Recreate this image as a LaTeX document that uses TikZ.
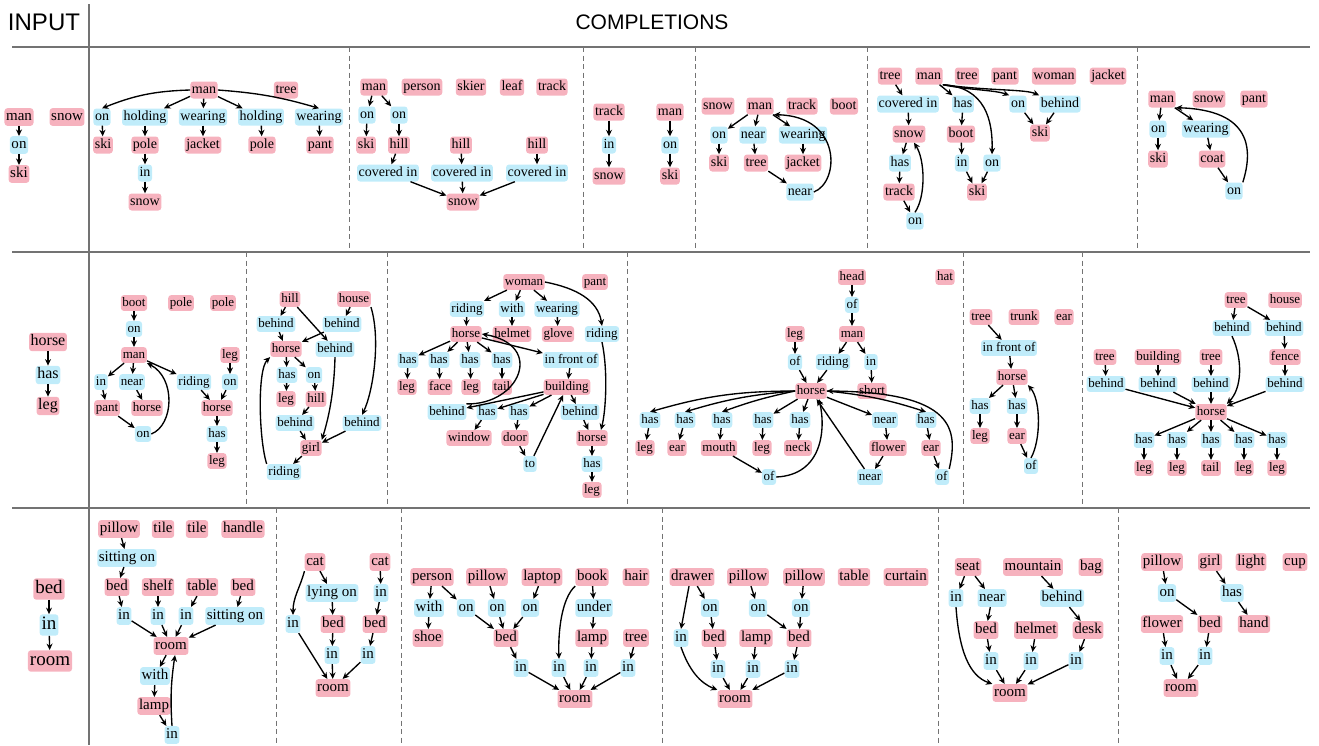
\documentclass[tikz,border=0pt]{standalone}
\usepackage{fontspec}
\setmainfont{Liberation Serif}
\newfontfamily\hdrfont{Liberation Sans}
\usetikzlibrary{arrows.meta}
\definecolor{obc}{RGB}{246,178,190}
\definecolor{rlc}{RGB}{192,236,250}
\definecolor{sepc}{RGB}{115,115,115}
\newcommand\nob[4][]{\node[ob,#1] (#2) at (#3) {#4};}
\newcommand\nrl[4][]{\node[rl,#1] (#2) at (#3) {#4};}
\begin{document}
\begin{tikzpicture}[x=1pt,y=-1pt,
  bx/.style={rounded corners=3pt, inner xsep=1.6pt},
  f14/.style={font=\fontsize{14}{16}\selectfont, text height=10pt, text depth=3pt, inner ysep=2pt},
  f13/.style={font=\fontsize{13}{15}\selectfont, text height=9.4pt, text depth=2.8pt, inner ysep=1.8pt},
  f15/.style={font=\fontsize{15}{17}\selectfont, text height=10.6pt, text depth=3.2pt, inner ysep=2pt},
  inA/.style={font=\fontsize{15}{17}\selectfont, text height=10.5pt, text depth=3.2pt, inner ysep=2pt},
  inB/.style={font=\fontsize{16}{18}\selectfont, text height=11pt, text depth=3.4pt, inner ysep=2pt},
  inC/.style={font=\fontsize{19}{21}\selectfont, text height=13pt, text depth=4pt, inner ysep=2.2pt, inner xsep=2pt},
  box/.style={bx,f14},
  ob/.style={box, fill=obc},
  rl/.style={box, fill=rlc},
  ar/.style={-{Stealth[length=6.5pt,width=6pt]}, line width=1.35pt},
  solidsep/.style={draw=sepc, line width=1.2pt},
  dashsep/.style={draw=sepc, line width=1pt, dash pattern=on 5pt off 3.5pt},
  hdr/.style={font=\hdrfont\fontsize{22}{24}\selectfont, inner sep=0pt}
]
\useasboundingbox (0,0) rectangle (1319,745);
% frame lines
\draw[solidsep] (89,4) -- (89,745);
\draw[solidsep] (12,47) -- (1310,47);
\draw[solidsep] (12,252) -- (1310,252);
\draw[solidsep] (12,508) -- (1310,508);
\foreach \x in {349,583,695,867,1137} \draw[dashsep] (\x,47) -- (\x,252);
\foreach \x in {246,387,627,963,1082} \draw[dashsep] (\x,252) -- (\x,508);
\foreach \x in {276,401,662,938,1118} \draw[dashsep] (\x,508) -- (\x,745);
\node[hdr,font=\hdrfont\fontsize{24}{26}\selectfont] (hin) at (44,22) {INPUT};
\node[hdr,font=\hdrfont\fontsize{21}{23}\selectfont] (hcomp) at (652,22) {COMPLETIONS};

% ================= ROW 1 =================
\nob[inA]{Aman}{19,117}{man}
\nob[inA]{Asnow}{67,117}{snow}
\nrl[inA]{Aon}{19,145}{on}
\nob[inA]{Aski}{19,174}{ski}
\foreach \a/\b in {Aman/Aon,Aon/Aski} \draw[ar] (\a)--(\b);

\nob{Bman}{204,90}{man}
\nob{Btree}{286,90}{tree}
\nrl{Bon}{102,117}{on}
\nrl{Bhold}{145,117}{holding}
\nrl{Bwear}{203,117}{wearing}
\nrl{Bhold2}{261,117}{holding}
\nrl{Bwear2}{319,117}{wearing}
\nob{Bski}{103,145}{ski}
\nob{Bpole}{145,145}{pole}
\nob{Bjacket}{203,145}{jacket}
\nob{Bpole2}{262,145}{pole}
\nob{Bpant}{320,145}{pant}
\nrl{Bin}{145,173}{in}
\nob{Bsnow}{145,202}{snow}
\draw[ar] (Bman.west) to[bend right=10] (Bon.north);
\draw[ar] (Bman.east) to[bend left=6] (Bwear2.north);
\foreach \a/\b in {Bman/Bhold,Bman/Bwear,Bman/Bhold2,Bon/Bski,Bhold/Bpole,Bpole/Bin,Bin/Bsnow,Bwear/Bjacket,Bhold2/Bpole2,Bwear2/Bpant} \draw[ar] (\a)--(\b);

\nob{Cman}{374,87}{man}
\nob{Cperson}{422,87}{person}
\nob{Cskier}{471,87}{skier}
\nob{Cleaf}{512,87}{leaf}
\nob{Ctrack}{552,87}{track}
\nrl{Con1}{367,115}{on}
\nrl{Con2}{399,115}{on}
\nob{Cski}{366,145}{ski}
\nob{Chill1}{399,145}{hill}
\nob{Chill2}{461,145}{hill}
\nob{Chill3}{537,145}{hill}
\nrl{Ccov1}{388,173}{covered in}
\nrl{Ccov2}{462,173}{covered in}
\nrl{Ccov3}{537,173}{covered in}
\nob{Csnow}{463,202}{snow}
\foreach \a/\b in {Cman/Con1,Cman/Con2,Con1/Cski,Con2/Chill1,Chill1/Ccov1,Chill2/Ccov2,Chill3/Ccov3,Ccov1/Csnow,Ccov2/Csnow,Ccov3/Csnow} \draw[ar] (\a)--(\b);

\nob{Dtrack}{609,112}{track}
\nrl{Din}{609,145}{in}
\nob{Dsnow}{609,176}{snow}
\nob{Dman}{670,112}{man}
\nrl{Don}{670,145}{on}
\nob{Dski}{670,176}{ski}
\foreach \a/\b in {Dtrack/Din,Din/Dsnow,Dman/Don,Don/Dski} \draw[ar] (\a)--(\b);

\nob{Esnow}{718,106}{snow}
\nob{Eman}{760,106}{man}
\nob{Etrack}{802,106}{track}
\nob{Eboot}{844,106}{boot}
\nrl{Eon}{719,135}{on}
\nrl{Enear}{753,135}{near}
\nrl{Ewear}{803,135}{wearing}
\nob{Eski}{719,163}{ski}
\nob{Etree}{756,163}{tree}
\nob{Ejacket}{803,163}{jacket}
\nrl{Enear2}{800,192}{near}
\foreach \a/\b in {Eman/Eon,Eman/Enear,Eman/Ewear,Eon/Eski,Enear/Etree,Ewear/Ejacket,Etree/Enear2} \draw[ar] (\a)--(\b);
\draw[ar] (Enear2.east) .. controls (840,182) and (842,116) .. (Eman.south east);

\nob{Ftree}{890,76}{tree}
\nob{Fman}{929,76}{man}
\nob{Ftree2}{967,76}{tree}
\nob{Fpant}{1005,76}{pant}
\nob{Fwoman}{1054,76}{woman}
\nob{Fjacket}{1108,76}{jacket}
\nrl{Fcov}{908,104}{covered in}
\nrl{Fhas}{963,104}{has}
\nrl{Fon}{1018,104}{on}
\nrl{Fbehind}{1060,104}{behind}
\nob{Fsnow}{909,134}{snow}
\nob{Fboot}{961,134}{boot}
\nob{Fski}{1040,133}{ski}
\nrl{Fhas2}{900,163}{has}
\nrl{Fin}{962,163}{in}
\nrl{Fon2}{992,163}{on}
\nob{Ftrack}{899,192}{track}
\nob{Fski2}{977,192}{ski}
\nrl{Fon3}{915,221}{on}
\foreach \a/\b in {Ftree/Fcov,Fman/Fhas,Fcov/Fsnow,Fsnow/Fhas2,Fhas2/Ftrack,Ftrack/Fon3,Fhas/Fboot,Fboot/Fin,Fin/Fski2,Fon2/Fski2,Fon/Fski,Fbehind/Fski} \draw[ar] (\a)--(\b);
\draw[ar] (Fman.south east) .. controls (985,87) and (993,120) .. (Fon2.north);
\draw[ar] (Fman.south east) .. controls (968,90) and (995,90) .. (Fon.north west);
\draw[ar] (Fman.south east) .. controls (990,91) and (1025,89) .. (Fbehind.north west);
\draw[ar] (Fon3.north) .. controls (926,196) and (925,160) .. ([xshift=5pt]Fsnow.south);

\nob{Gman}{1162,99}{man}
\nob{Gsnow}{1209,99}{snow}
\nob{Gpant}{1254,99}{pant}
\nrl{Gon}{1158,129}{on}
\nrl{Gwear}{1206,129}{wearing}
\nob{Gski}{1158,159}{ski}
\nob{Gcoat}{1212,159}{coat}
\nrl{Gon2}{1234,191}{on}
\foreach \a/\b in {Gman/Gon,Gman/Gwear,Gon/Gski,Gwear/Gcoat,Gcoat/Gon2} \draw[ar] (\a)--(\b);
\draw[ar] (Gon2.north east) .. controls (1253,150) and (1252,110) .. (Gman.south east);

% ================= ROW 2 =================
\nob[inB]{Hhorse}{48,342}{horse}
\nrl[inB]{Hhas}{48,375}{has}
\nob[inB]{Hleg}{48,406}{leg}
\foreach \a/\b in {Hhorse/Hhas,Hhas/Hleg} \draw[ar] (\a)--(\b);

\begin{scope}[box/.style={bx,f13}]
\nob{Iboot}{134,303}{boot}
\nob{Ipole}{181,303}{pole}
\nob{Ipole2}{223,303}{pole}
\nrl{Ion}{134,329}{on}
\nob{Iman}{134,355}{man}
\nob{Ileg}{230,355}{leg}
\nrl{Iin}{101,382}{in}
\nrl{Inear}{132,382}{near}
\nrl{Iriding}{194,382}{riding}
\nrl{Ion2}{230,382}{on}
\nob{Ipant}{107,408}{pant}
\nob{Ihorse}{147,408}{horse}
\nob{Ihorse2}{217,408}{horse}
\nrl{Ion3}{143,434}{on}
\nrl{Ihas}{217,434}{has}
\nob{Ileg2}{217,461}{leg}
\foreach \a/\b in {Iboot/Ion,Ion/Iman,Iman/Iin,Iman/Inear,Iman/Iriding,Ileg/Ion2,Iin/Ipant,Inear/Ihorse,Iriding/Ihorse2,Ion2/Ihorse2,Ipant/Ion3,Ihorse2/Ihas,Ihas/Ileg2} \draw[ar] (\a)--(\b);
\draw[ar] (Ion3.east) .. controls (174,425) and (176,378) .. (Iman.south east);

\nob{Jhill}{290,299}{hill}
\nob{Jhouse}{354,299}{house}
\nrl{Jb1}{276,324}{behind}
\nrl{Jb2}{342,324}{behind}
\nob{Jhorse}{286,349}{horse}
\nrl{Jb3}{335,349}{behind}
\nrl{Jhas}{287,375}{has}
\nrl{Jon}{314,375}{on}
\nob{Jleg}{286,399}{leg}
\nob{Jhill2}{316,399}{hill}
\nrl{Jb4}{295,423}{behind}
\nrl{Jb5}{362,423}{behind}
\nob{Jgirl}{311,448}{girl}
\nrl{Jriding}{284,472}{riding}
\foreach \a/\b in {Jhill/Jb1,Jhill/Jb3,Jhouse/Jb2,Jb1/Jhorse,Jb2/Jhorse,Jhorse/Jhas,Jhorse/Jon,Jhas/Jleg,Jon/Jhill2,Jhill2/Jb4,Jb4/Jgirl,Jb5/Jgirl,Jgirl/Jriding} \draw[ar] (\a)--(\b);
\draw[ar] (Jhouse.south east) .. controls (381,340) and (373,392) .. (Jb5.north);
\draw[ar] (Jb3.south) .. controls (334,395) and (328,420) .. (Jgirl.north east);
\draw[ar] (Jriding.north west) .. controls (259,440) and (257,370) .. (Jhorse.south west);

\nob{Kwoman}{524,282}{woman}
\nob{Kpant}{595,282}{pant}
\nrl{Kriding}{467,309}{riding}
\nrl{Kwith}{512,309}{with}
\nrl{Kwear}{557,309}{wearing}
\nob{Khorse}{466,334}{horse}
\nob{Khelmet}{512,334}{helmet}
\nob{Kglove}{558,334}{glove}
\nrl{Kriding2}{602,334}{riding}
\nrl{Khas1}{408,360}{has}
\nrl{Khas2}{439,360}{has}
\nrl{Khas3}{470,360}{has}
\nrl{Khas4}{502,360}{has}
\nrl{Kfront}{571,360}{in front of}
\nob{Kleg1}{407,387}{leg}
\nob{Kface}{440,387}{face}
\nob{Kleg2}{471,387}{leg}
\nob{Ktail}{502,387}{tail}
\nob{Kbuilding}{567,387}{building}
\nrl{Kb1}{447,412}{behind}
\nrl{Khas5}{487,412}{has}
\nrl{Khas6}{519,412}{has}
\nrl{Kb2}{580,412}{behind}
\nob{Kwindow}{469,438}{window}
\nob{Kdoor}{515,438}{door}
\nob{Khorse2}{592,438}{horse}
\nrl{Kto}{530,464}{to}
\nrl{Khas7}{592,464}{has}
\nob{Kleg3}{592,490}{leg}
\foreach \a/\b in {Kwoman/Kriding,Kwoman/Kwith,Kwoman/Kwear,Kriding/Khorse,Kwith/Khelmet,Kwear/Kglove,Khorse/Khas1,Khorse/Khas2,Khorse/Khas3,Khorse/Khas4,Khorse/Kfront,Khas1/Kleg1,Khas2/Kface,Khas3/Kleg2,Khas4/Ktail,Kfront/Kbuilding,Kbuilding/Kb1,Kbuilding/Khas5,Kbuilding/Khas6,Kbuilding/Kb2,Khas5/Kwindow,Khas6/Kdoor,Kdoor/Kto,Kb2/Khorse2,Khorse2/Khas7,Khas7/Kleg3,Kto/Kbuilding} \draw[ar] (\a)--(\b);
\draw[ar] (Kwoman.east) .. controls (576,288) and (598,300) .. (Kriding2.north);
\draw[ar] (Kriding2.south) .. controls (608,370) and (606,410) .. ([xshift=9pt]Khorse2.north);
\draw[ar] (Kb1.north east) .. controls (520,405) and (545,345) .. (Khorse.east);

\nob{Lhead}{852,277}{head}
\nob{Lhat}{945,277}{hat}
\nrl{Lof1}{852,305}{of}
\nob{Lleg}{795,334}{leg}
\nob{Lman}{852,334}{man}
\nrl{Lof2}{795,362}{of}
\nrl{Lriding}{833,362}{riding}
\nrl{Lin}{871,362}{in}
\nob{Lhorse}{811,391}{horse}
\nob{Lshort}{872,391}{short}
\nrl{Lhas1}{650,420}{has}
\nrl{Lhas2}{685,420}{has}
\nrl{Lhas3}{722,420}{has}
\nrl{Lhas4}{763,420}{has}
\nrl{Lhas5}{800,420}{has}
\nrl{Lnear1}{885,420}{near}
\nrl{Lhas6}{926,420}{has}
\nob{Lleg1}{645,448}{leg}
\nob{Lear1}{677,448}{ear}
\nob{Lmouth}{719,448}{mouth}
\nob{Lleg2}{762,448}{leg}
\nob{Lneck}{798,448}{neck}
\nob{Lflower}{888,448}{flower}
\nob{Lear2}{931,448}{ear}
\nrl{Lof3}{769,477}{of}
\nrl{Lnear2}{870,477}{near}
\nrl{Lof4}{942,477}{of}
\foreach \a/\b in {Lhead/Lof1,Lof1/Lman,Lleg/Lof2,Lman/Lriding,Lman/Lin,Lof2/Lhorse,Lriding/Lhorse,Lin/Lshort,Lhorse/Lhas4,Lhorse/Lhas5,Lhorse/Lnear1,Lhas1/Lleg1,Lhas2/Lear1,Lhas3/Lmouth,Lhas4/Lleg2,Lhas5/Lneck,Lnear1/Lflower,Lhas6/Lear2,Lmouth/Lof3,Lflower/Lnear2,Lnear2/Lhorse,Lear2/Lof4} \draw[ar] (\a)--(\b);
\draw[ar] (Lhorse.west) to[bend right=8] (Lhas1.north);
\draw[ar] (Lhorse.west) to[bend right=6] (Lhas2.north);
\draw[ar] (Lhorse.west) to[bend right=4] (Lhas3.north);
\draw[ar] (Lhorse.east) to[bend left=6] (Lhas6.north);
\draw[ar] (Lof3.east) .. controls (822,475) and (826,430) .. ([xshift=8pt]Lhorse.south);
\draw[ar] (Lof4.north east) .. controls (958,430) and (956,392) .. (Lhorse.east);

\nob{Mtree}{981,317}{tree}
\nob{Mtrunk}{1024,317}{trunk}
\nob{Mear}{1064,317}{ear}
\nrl{Mfront}{1009,348}{in front of}
\nob{Mhorse}{1012,377}{horse}
\nrl{Mhas1}{980,406}{has}
\nrl{Mhas2}{1017,406}{has}
\nob{Mleg}{980,436}{leg}
\nob{Mear2}{1017,436}{ear}
\nrl{Mof}{1031,466}{of}
\foreach \a/\b in {Mtree/Mfront,Mfront/Mhorse,Mhorse/Mhas1,Mhorse/Mhas2,Mhas1/Mleg,Mhas2/Mear2,Mear2/Mof} \draw[ar] (\a)--(\b);
\draw[ar] (Mof.north) .. controls (1041,440) and (1041,400) .. (Mhorse.south east);

\nob{Ntree1}{1236,300}{tree}
\nob{Nhouse}{1285,300}{house}
\nrl{Nb1}{1232,328}{behind}
\nrl{Nb2}{1284,328}{behind}
\nob{Ntree2}{1105,357}{tree}
\nob{Nbuilding}{1158,357}{building}
\nob{Ntree3}{1211,357}{tree}
\nob{Nfence}{1285,357}{fence}
\nrl{Nb3}{1106,384}{behind}
\nrl{Nb4}{1158,384}{behind}
\nrl{Nb5}{1211,384}{behind}
\nrl{Nb6}{1285,384}{behind}
\nob{Nhorse}{1211,412}{horse}
\nrl{Nh1}{1144,440}{has}
\nrl{Nh2}{1177,440}{has}
\nrl{Nh3}{1211,440}{has}
\nrl{Nh4}{1244,440}{has}
\nrl{Nh5}{1277,440}{has}
\nob{Nl1}{1144,468}{leg}
\nob{Nl2}{1177,468}{leg}
\nob{Nl3}{1211,468}{tail}
\nob{Nl4}{1244,468}{leg}
\nob{Nl5}{1277,468}{leg}
\foreach \a/\b in {Ntree1/Nb1,Ntree1/Nb2,Nb2/Nfence,Nfence/Nb6,Ntree2/Nb3,Nbuilding/Nb4,Ntree3/Nb5,Nb3/Nhorse,Nb4/Nhorse,Nb5/Nhorse,Nb6/Nhorse,Nhorse/Nh1,Nhorse/Nh2,Nhorse/Nh3,Nhorse/Nh4,Nhorse/Nh5,Nh1/Nl1,Nh2/Nl2,Nh3/Nl3,Nh4/Nl4,Nh5/Nl5} \draw[ar] (\a)--(\b);
\draw[ar] (Nb1.south) .. controls (1243,360) and (1242,388) .. (Nhorse.north east);
\end{scope}

% ================= ROW 3 =================
\nob[inC]{Pbed}{49,589}{bed}
\nrl[inC]{Pin}{49,625}{in}
\nob[inC]{Proom}{50,661}{room}
\foreach \a/\b in {Pbed/Pin,Pin/Proom} \draw[ar] (\a)--(\b);

\begin{scope}[box/.style={bx,f15}]
\nob{Qpillow}{119,529}{pillow}
\nob{Qtile1}{163,529}{tile}
\nob{Qtile2}{197,529}{tile}
\nob{Qhandle}{243,529}{handle}
\nrl{Qsit1}{127,558}{sitting on}
\nob{Qbed1}{117,587}{bed}
\nob{Qshelf}{158,587}{shelf}
\nob{Qtable}{202,587}{table}
\nob{Qbed2}{243,587}{bed}
\nrl{Qin1}{124,616}{in}
\nrl{Qin2}{158,616}{in}
\nrl{Qin3}{186,616}{in}
\nrl{Qsit2}{235,616}{sitting on}
\nob{Qroom}{171,646}{room}
\nrl{Qwith}{155,676}{with}
\nob{Qlamp}{154,706}{lamp}
\nrl{Qin4}{172,735}{in}
\foreach \a/\b in {Qpillow/Qsit1,Qsit1/Qbed1,Qbed1/Qin1,Qshelf/Qin2,Qtable/Qin3,Qbed2/Qsit2,Qin1/Qroom,Qin2/Qroom,Qin3/Qroom,Qsit2/Qroom,Qroom/Qwith,Qwith/Qlamp,Qlamp/Qin4} \draw[ar] (\a)--(\b);
\draw[ar] (Qin4.north) to[bend left=6] ([xshift=4pt]Qroom.south);

\nob{Rcat1}{315,562}{cat}
\nob{Rcat2}{380,562}{cat}
\nrl{Rlying}{332,593}{lying on}
\nrl{Rin1}{293,624}{in}
\nob{Rbed1}{333,624}{bed}
\nrl{Rin2}{381,593}{in}
\nob{Rbed2}{375,624}{bed}
\nrl{Rin3}{332,655}{in}
\nrl{Rin4}{368,655}{in}
\nob{Rroom}{333,688}{room}
\foreach \a/\b in {Rcat1/Rlying,Rlying/Rbed1,Rbed1/Rin3,Rcat2/Rin2,Rin2/Rbed2,Rbed2/Rin4,Rin1/Rroom,Rin3/Rroom,Rin4/Rroom} \draw[ar] (\a)--(\b);
\draw[ar] (Rcat1.south west) to[out=-105,in=90] (Rin1.north);

\nob{Sperson}{432,577}{person}
\nob{Spillow}{487,577}{pillow}
\nob{Slaptop}{542,577}{laptop}
\nob{Sbook}{592,577}{book}
\nob{Shair}{636,577}{hair}
\nrl{Swith}{429,608}{with}
\nrl{Son1}{466,608}{on}
\nrl{Son2}{497,608}{on}
\nrl{Son3}{530,608}{on}
\nrl{Sunder}{594,608}{under}
\nob{Sshoe}{428,638}{shoe}
\nob{Sbed}{506,638}{bed}
\nob{Slamp}{592,638}{lamp}
\nob{Stree}{636,638}{tree}
\nrl{Sin1}{521,668}{in}
\nrl{Sin2}{559,668}{in}
\nrl{Sin3}{591,668}{in}
\nrl{Sin4}{628,668}{in}
\nob{Sroom}{575,699}{room}
\foreach \a/\b in {Sperson/Swith,Sperson/Son1,Swith/Sshoe,Son1/Sbed,Spillow/Son2,Son2/Sbed,Slaptop/Son3,Son3/Sbed,Sbed/Sin1,Sbook/Sunder,Sunder/Slamp,Slamp/Sin3,Stree/Sin4,Sin1/Sroom,Sin2/Sroom,Sin3/Sroom,Sin4/Sroom} \draw[ar] (\a)--(\b);
\draw[ar] (Sbook.south west) .. controls (562,598) and (558,630) .. (Sin2.north);

\nob{Tdrawer}{692,577}{drawer}
\nob{Tpillow1}{748,577}{pillow}
\nob{Tpillow2}{804,577}{pillow}
\nob{Ttable}{854,577}{table}
\nob{Tcurtain}{906,577}{curtain}
\nrl{Ton1}{710,608}{on}
\nrl{Ton2}{758,608}{on}
\nrl{Ton3}{801,608}{on}
\nrl{Tin1}{681,638}{in}
\nob{Tbed1}{714,638}{bed}
\nob{Tlamp}{756,638}{lamp}
\nob{Tbed2}{799,638}{bed}
\nrl{Tin2}{718,669}{in}
\nrl{Tin3}{753,669}{in}
\nrl{Tin4}{792,669}{in}
\nob{Troom}{735,699}{room}
\foreach \a/\b in {Tdrawer/Ton1,Ton1/Tbed1,Tbed1/Tin2,Tpillow1/Ton2,Ton2/Tbed2,Tpillow2/Ton3,Ton3/Tbed2,Tlamp/Tin3,Tbed2/Tin4,Tin2/Troom,Tin3/Troom,Tin4/Troom} \draw[ar] (\a)--(\b);
\draw[ar] ([xshift=-3pt]Tdrawer.south) -- (Tin1.north);
\draw[ar] (Tin1.south) .. controls (689,670) and (700,683) .. (Troom.north west);

\nob{Useat}{968,567}{seat}
\nob{Umountain}{1033,567}{mountain}
\nob{Ubag}{1091,567}{bag}
\nrl{Uin1}{956,598}{in}
\nrl{Unear}{992,598}{near}
\nrl{Ubehind}{1062,598}{behind}
\nob{Ubed}{986,630}{bed}
\nob{Uhelmet}{1036,630}{helmet}
\nob{Udesk}{1088,630}{desk}
\nrl{Uin2}{991,661}{in}
\nrl{Uin3}{1031,661}{in}
\nrl{Uin4}{1076,661}{in}
\nob{Uroom}{1010,693}{room}
\foreach \a/\b in {Useat/Uin1,Useat/Unear,Unear/Ubed,Ubed/Uin2,Umountain/Ubehind,Ubehind/Udesk,Uhelmet/Uin3,Udesk/Uin4,Uin2/Uroom,Uin3/Uroom,Uin4/Uroom} \draw[ar] (\a)--(\b);
\draw[ar] (Uin1.south) .. controls (959,650) and (969,676) .. (Uroom.north west);

\nob{Vpillow}{1162,562}{pillow}
\nob{Vgirl}{1210,562}{girl}
\nob{Vlight}{1251,562}{light}
\nob{Vcup}{1295,562}{cup}
\nrl{Von}{1167,593}{on}
\nrl{Vhas}{1232,593}{has}
\nob{Vflower}{1162,624}{flower}
\nob{Vbed}{1210,624}{bed}
\nob{Vhand}{1254,624}{hand}
\nrl{Vin1}{1167,656}{in}
\nrl{Vin2}{1205,656}{in}
\nob{Vroom}{1181,688}{room}
\foreach \a/\b in {Vpillow/Von,Von/Vbed,Vgirl/Vhas,Vhas/Vhand,Vflower/Vin1,Vbed/Vin2,Vin1/Vroom,Vin2/Vroom} \draw[ar] (\a)--(\b);
\end{scope}
\end{tikzpicture}
\end{document}
